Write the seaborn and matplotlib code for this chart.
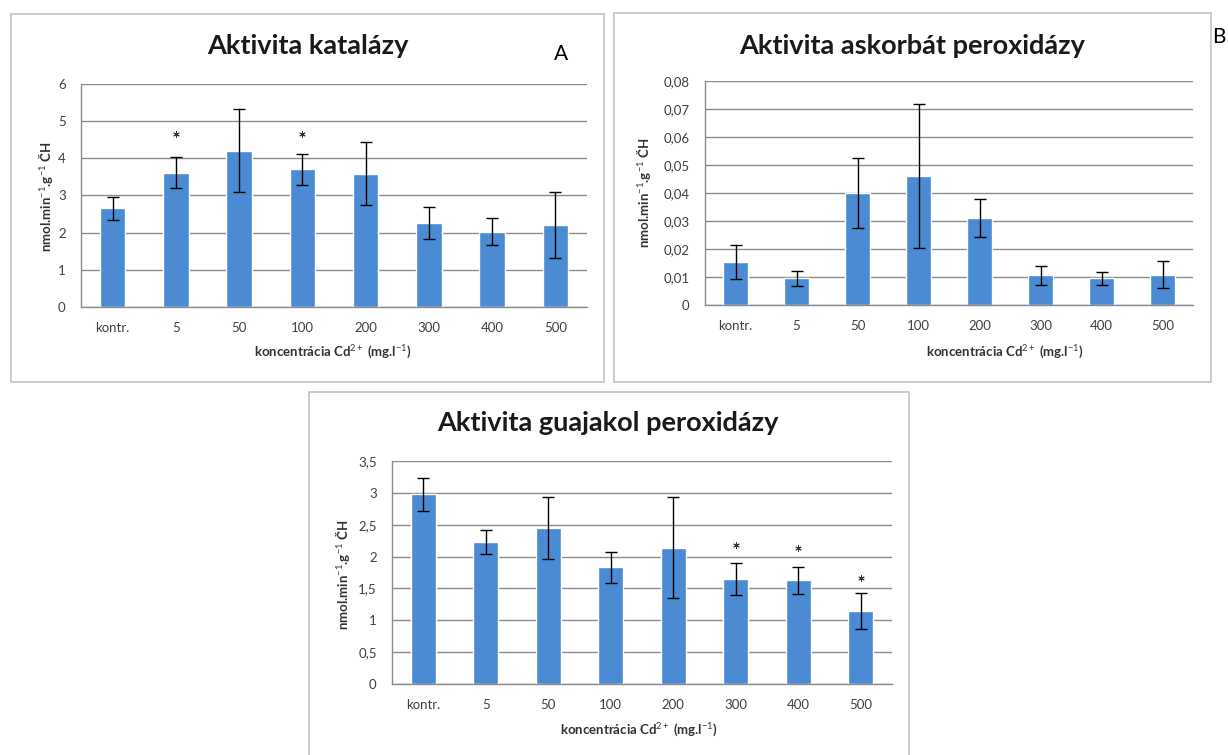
import numpy as np
import pandas as pd
import matplotlib
matplotlib.use('Agg')
import matplotlib.pyplot as plt
import seaborn as sns
from matplotlib.patches import Rectangle

sns.set_style('white')
plt.rcParams['font.family'] = ['Lato', 'DejaVu Sans']
plt.rcParams['mathtext.fontset'] = 'custom'
plt.rcParams['mathtext.rm'] = 'Lato'
plt.rcParams['mathtext.it'] = 'Lato:italic'
plt.rcParams['mathtext.bf'] = 'Lato:bold'

# concentrations of Cd2+ (mg/l)
categories = ['kontr.', '5', '50', '100', '200', '300', '400', '500']

# A - catalase
cat_mean = [2.66, 3.61, 4.21, 3.71, 3.59, 2.26, 2.03, 2.21]
cat_err = [0.31, 0.42, 1.12, 0.42, 0.85, 0.44, 0.37, 0.88]
cat_star_cats = ['5', '100']
cat_star_y = [4.65, 4.65]
cat_yticks = [0, 1, 2, 3, 4, 5, 6]
cat_ylabels = ['0', '1', '2', '3', '4', '5', '6']

# B - ascorbate peroxidase
apx_mean = [0.0153, 0.0096, 0.0401, 0.0461, 0.0311, 0.0106, 0.0095, 0.0108]
apx_err = [0.0060, 0.0027, 0.0125, 0.0257, 0.0068, 0.0035, 0.0023, 0.0048]
apx_star_cats = []
apx_star_y = []
apx_yticks = [0, 0.01, 0.02, 0.03, 0.04, 0.05, 0.06, 0.07, 0.08]
apx_ylabels = ['0', '0,01', '0,02', '0,03', '0,04', '0,05', '0,06', '0,07', '0,08']

# C - guaiacol peroxidase
gpx_mean = [2.98, 2.23, 2.45, 1.83, 2.14, 1.65, 1.63, 1.15]
gpx_err = [0.26, 0.19, 0.49, 0.24, 0.79, 0.25, 0.21, 0.28]
gpx_star_cats = ['300', '400', '500']
gpx_star_y = [2.18, 2.13, 1.66]
gpx_yticks = [0, 0.5, 1, 1.5, 2, 2.5, 3, 3.5]
gpx_ylabels = ['0', '0,5', '1', '1,5', '2', '2,5', '3', '3,5']

BLUE = '#4a8bd4'
GRID = '#8c8c8c'
FRAME = '#c4c4c4'
W, H = 1228, 755

fig = plt.figure(figsize=(W / 100, H / 100), dpi=100)


def px_text(x, y, s, **kw):
    fig.text(x / W, 1 - y / H, s, **kw)


def frame(x0, y0, x1, y1):
    fig.add_artist(Rectangle((x0 / W, 1 - y1 / H), (x1 - x0) / W, (y1 - y0) / H,
                             transform=fig.transFigure, fill=False, ec=FRAME, lw=1.2))


def panel(box, means, errs, yticks, ylabels, star_cats, star_y):
    x0, y0, x1, y1 = box
    ax = fig.add_axes([x0 / W, 1 - y1 / H, (x1 - x0) / W, (y1 - y0) / H])
    df = pd.DataFrame({'conc': categories, 'val': means})
    sns.barplot(data=df, x='conc', y='val', ax=ax, color=BLUE, saturation=1,
                width=0.4, errorbar=None)
    ax.errorbar(np.arange(len(categories)), means, yerr=errs, fmt='none',
                ecolor='black', elinewidth=1, capsize=4, capthick=1, zorder=5)
    if star_cats:
        ax.scatter([categories.index(c) for c in star_cats], star_y,
                   marker=(6, 2, 0), s=16, color='#333333', linewidths=0.7, zorder=6)
    ax.set_xlim(-0.5, len(categories) - 0.5)
    ax.set_ylim(yticks[0], yticks[-1])
    ax.set_yticks(yticks)
    ax.set_yticklabels(ylabels)
    ax.yaxis.grid(True, color=GRID, lw=1)
    ax.set_axisbelow(True)
    for s in ['top', 'right']:
        ax.spines[s].set_visible(False)
    for s in ['left', 'bottom']:
        ax.spines[s].set_color(GRID)
        ax.spines[s].set_linewidth(1)
    ax.tick_params(axis='y', length=5, width=1, color=GRID, pad=6,
                   labelsize=9.5, labelcolor='#404040')
    ax.tick_params(axis='x', length=0, pad=11, labelsize=9.5, labelcolor='#404040')
    ax.set_xlabel('')
    ax.set_ylabel('')
    return ax


ylab = 'nmol.min$^{-1}$.g$^{-1}$ ČH'
xlab = 'koncentrácia Cd$^{2+}$ (mg.l$^{-1}$)'
TITLE_KW = dict(ha='center', va='center', fontsize=19.5, fontweight='bold',
                color='#1a1a1a')
LAB_KW = dict(ha='center', va='center', fontsize=9.5, fontweight='bold',
              color='#333333')

# panel A
frame(11, 14, 604, 382)
panel((81, 84, 587, 307), cat_mean, cat_err, cat_yticks, cat_ylabels,
      cat_star_cats, cat_star_y)
px_text(308, 46, 'Aktivita katalázy', **TITLE_KW)
px_text(561, 54, 'A', ha='center', va='center', fontsize=15, color='black')
px_text(333, 352, xlab, **LAB_KW)
px_text(46, 197, ylab, rotation=90, **LAB_KW)

# panel B
frame(614, 13, 1211, 382)
panel((705, 81, 1193, 305), apx_mean, apx_err, apx_yticks, apx_ylabels,
      apx_star_cats, apx_star_y)
px_text(912, 46, 'Aktivita askorbát peroxidázy', **TITLE_KW)
px_text(1219, 37, 'B', ha='center', va='center', fontsize=15, color='black')
px_text(1005, 352, xlab, **LAB_KW)
px_text(644, 193, ylab, rotation=90, **LAB_KW)

# panel C
frame(309, 392, 909, 770)
panel((392, 461, 892, 684), gpx_mean, gpx_err, gpx_yticks, gpx_ylabels,
      gpx_star_cats, gpx_star_y)
px_text(608, 423, 'Aktivita guajakol peroxidázy', **TITLE_KW)
px_text(639, 730, xlab, **LAB_KW)
px_text(343, 575, ylab, rotation=90, **LAB_KW)

fig.savefig('out.png', dpi=100, facecolor='white')
